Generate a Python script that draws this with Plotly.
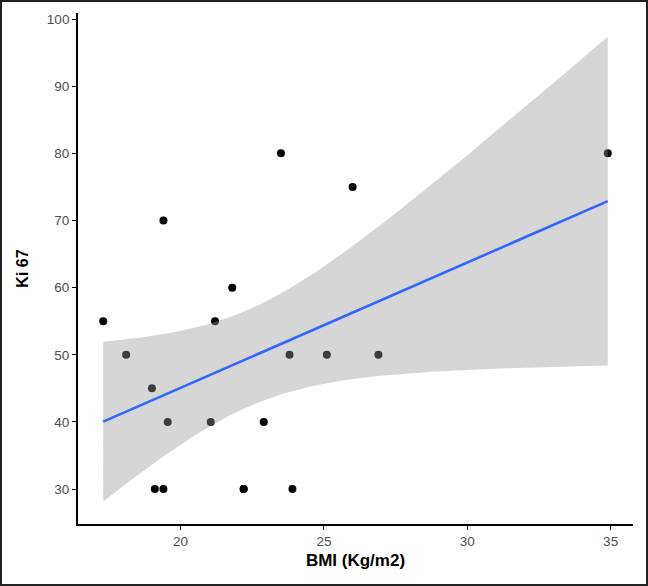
import numpy as np
import plotly.graph_objects as go

# Observations (one pair at BMI 22.2 / Ki67 30 is duplicated, overlapping in the plot)
bmi = [17.3, 18.1, 19.0, 19.1, 19.4, 19.4, 19.55, 21.05, 21.2, 21.8,
       22.2, 22.2, 22.9, 23.5, 23.8, 23.9, 25.1, 26.0, 26.9, 34.9]
ki67 = [55, 50, 45, 30, 30, 70, 40, 40, 55, 60,
        30, 30, 40, 80, 50, 30, 50, 75, 50, 80]

x_ticks = [20, 25, 30, 35]
y_ticks = [30, 40, 50, 60, 70, 80, 90, 100]

# linear model with 95% confidence band (like geom_smooth(method="lm"))
x = np.array(bmi, float)
y = np.array(ki67, float)
n = len(x)
b1, b0 = np.polyfit(x, y, 1)
resid = y - (b0 + b1 * x)
s = np.sqrt(np.sum(resid ** 2) / (n - 2))
t_crit = 2.100922  # t(0.975, df=18)
xs = np.linspace(x.min(), x.max(), 80)
fit = b0 + b1 * xs
se = s * np.sqrt(1 / n + (xs - x.mean()) ** 2 / np.sum((x - x.mean()) ** 2))
lo = fit - t_crit * se
hi = fit + t_crit * se

fig = go.Figure()
fig.add_trace(go.Scatter(x=bmi, y=ki67, mode="markers",
                         marker=dict(color="black", size=8), hoverinfo="skip"))
fig.add_trace(go.Scatter(x=np.concatenate([xs, xs[::-1]]),
                         y=np.concatenate([hi, lo[::-1]]),
                         fill="toself", fillcolor="rgba(153,153,153,0.4)",
                         line=dict(width=0), mode="lines", hoverinfo="skip"))
fig.add_trace(go.Scatter(x=xs, y=fit, mode="lines",
                         line=dict(color="#3366FF", width=2.6), hoverinfo="skip"))

W, H = 648, 586
ml, mr, mt, mb = 78, 15, 13, 62
pw, ph = W - ml - mr, H - mt - mb

FONT = "Liberation Sans, Arial, sans-serif"
axis_common = dict(showgrid=False, zeroline=False, showline=True, linecolor="black",
                   linewidth=1.8, ticks="outside", ticklen=4, tickwidth=1.3,
                   tickcolor="black", automargin=False,
                   tickfont=dict(size=13.5, color="#4d4d4d", family=FONT))

fig.update_layout(
    width=W, height=H, showlegend=False,
    margin=dict(l=ml, r=mr, t=mt, b=mb),
    paper_bgcolor="white", plot_bgcolor="white",
    font=dict(family=FONT),
    xaxis=dict(range=[16.42, 35.78], tickvals=x_ticks,
               title=dict(text="<b>BMI (Kg/m2)</b>", font=dict(size=17, color="black"),
                          standoff=6),
               **axis_common),
    yaxis=dict(range=[24.8, 100.9], tickvals=y_ticks,
               title=dict(text="<b>Ki 67</b>", font=dict(size=16, color="black"),
                          standoff=14),
               **axis_common),
    shapes=[dict(type="rect", xref="paper", yref="paper", layer="above",
                 x0=-(ml - 1) / pw, x1=1 + (mr - 1) / pw,
                 y0=-(mb - 1) / ph, y1=1 + (mt - 1) / ph,
                 line=dict(color="#222222", width=2))],
)

fig.write_html("out.html", config={"displayModeBar": False},
               post_script="document.body.style.margin='0';"
                           "document.body.style.overflow='hidden';")
